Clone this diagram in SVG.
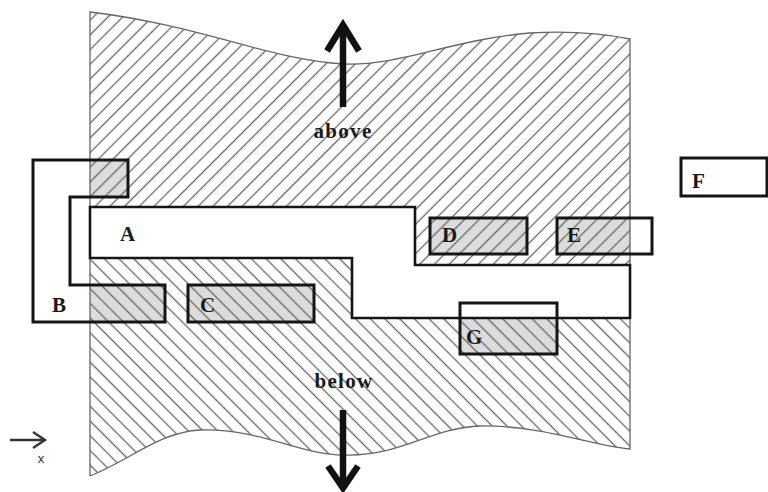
<svg xmlns="http://www.w3.org/2000/svg" width="768" height="492" viewBox="0 0 768 492">
  <defs>
    <pattern id="hatchUp" patternUnits="userSpaceOnUse" width="10.4" height="10.4" patternTransform="rotate(-45)">
      <line x1="0" y1="5.2" x2="10.4" y2="5.2" stroke="#666" stroke-width="1.3"/>
    </pattern>
    <pattern id="hatchDown" patternUnits="userSpaceOnUse" width="10.4" height="10.4" patternTransform="rotate(45)">
      <line x1="0" y1="5.2" x2="10.4" y2="5.2" stroke="#666" stroke-width="1.3"/>
    </pattern>
    <style>
      .overlap { fill: #dcdcdc; }
      .edge { fill: none; stroke: #666; stroke-width: 1.3; }
      .box { fill: none; stroke: #151515; stroke-width: 3; }
      .strip { fill: #fff; stroke: #151515; stroke-width: 2.6; }
      .lbl { font-family: "Liberation Serif", "Times New Roman", serif; font-weight: bold; font-size: 21px; fill: #1a1a1a; }
      .dir { font-family: "Liberation Serif", "Times New Roman", serif; font-weight: bold; font-size: 21px; fill: #1a1a1a; text-anchor: middle; letter-spacing: 1.3px; }
      .big { fill: none; stroke: #111; stroke-width: 6.5; stroke-linecap: butt; stroke-linejoin: miter; }
      .axis { fill: none; stroke: #333; stroke-width: 2.4; }
    </style>
  </defs>

  <rect x="0" y="0" width="768" height="492" fill="#fff"/>

  <!-- grey where the boxes lie over the hatched region -->
  <g id="overlaps">
    <rect class="overlap" x="90" y="160" width="38" height="37"/>
    <rect class="overlap" x="90" y="285" width="75" height="37"/>
    <rect class="overlap" x="188" y="285" width="126" height="37"/>
    <rect class="overlap" x="430" y="218" width="97" height="36"/>
    <rect class="overlap" x="557" y="218" width="73" height="36"/>
    <rect class="overlap" x="460" y="318" width="97" height="36"/>
  </g>

  <!-- hatched region: upper and lower halves -->
  <g id="region">
    <path id="region-above" fill="url(#hatchUp)" d="M90,12 C200,25 270,60 344,64 C400,66 450,40 530,33 C580,30 610,35 630,39 L630,265 L415,265 L415,207 L90,207 Z"/>
    <path id="region-below" fill="url(#hatchDown)" d="M90,258 L352,258 L352,318 L630,318 L630,449 C590,445 540,425 480,426 C430,428 400,457 344,455 C300,455 260,428 200,430 C160,432 130,460 90,476 Z"/>
    <path class="edge" d="M90,476 L90,12 C200,25 270,60 344,64 C400,66 450,40 530,33 C580,30 610,35 630,39 L630,449 C590,445 540,425 480,426 C430,428 400,457 344,455 C300,455 260,428 200,430 C160,432 130,460 90,476"/>
  </g>

  <g id="node-A">
    <path class="strip" d="M90,207 L415,207 L415,265 L630,265 L630,318 L352,318 L352,258 L90,258 Z"/>
    <text class="lbl" x="120" y="241">A</text>
  </g>

  <g id="node-B">
    <path class="box" d="M33,160 L128,160 L128,197 L70,197 L70,285 L165,285 L165,322 L33,322 Z"/>
    <text class="lbl" x="52" y="312">B</text>
  </g>

  <g id="node-C">
    <rect class="box" x="188" y="285" width="126" height="37"/>
    <text class="lbl" x="200" y="312">C</text>
  </g>

  <g id="node-D">
    <rect class="box" x="430" y="218" width="97" height="36"/>
    <text class="lbl" x="442" y="242">D</text>
  </g>

  <g id="node-E">
    <rect class="box" x="557" y="218" width="95" height="36"/>
    <text class="lbl" x="567" y="242">E</text>
  </g>

  <g id="node-F">
    <rect class="box" x="681" y="158" width="86" height="38"/>
    <text class="lbl" x="692" y="188">F</text>
  </g>

  <g id="node-G">
    <rect class="box" x="460" y="303" width="97" height="51"/>
    <text class="lbl" x="466" y="344">G</text>
  </g>

  <!-- direction arrows and labels -->
  <g id="connectors">
    <line class="big" x1="343" y1="107" x2="343" y2="26"/>
    <polyline class="big" points="327,51 343,25 359,51"/>
    <line class="big" x1="343" y1="410" x2="343" y2="486"/>
    <polyline class="big" points="328,466 343,488 358,466"/>
    <line class="axis" x1="10" y1="440" x2="44" y2="440"/>
    <polyline class="axis" points="33,432 45,440 33,448"/>
  </g>

  <text class="dir" x="343" y="138">above</text>
  <text class="dir" x="344" y="388">below</text>
  <text x="41" y="463" font-family="Liberation Sans, Arial, sans-serif" font-size="13" fill="#333" text-anchor="middle">x</text>
</svg>
